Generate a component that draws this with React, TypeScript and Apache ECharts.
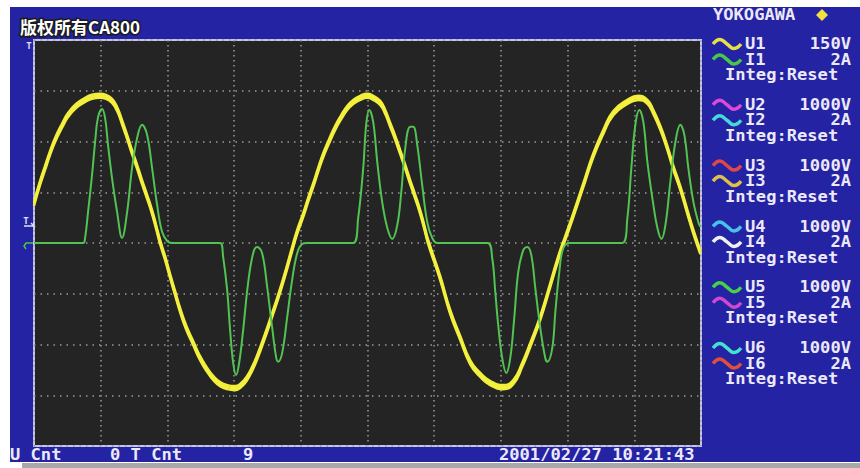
import React, { useEffect, useRef } from "react";
import * as echarts from "echarts";

// Time axis in ms (5 ms/div, 10 div), amplitude in divisions (8 div)
const voltageTime = [0, 0.45, 0.83, 1.2, 1.58, 2.1, 2.55, 3.15, 3.83, 4.35, 4.95, 5.4, 5.85, 6.23, 6.6, 6.98, 7.35, 7.73, 8.1, 8.48, 8.85, 9.15, 9.45, 9.83, 10.2, 10.58, 10.95, 11.4, 11.93, 12.45, 12.98, 13.43, 13.95, 14.48, 15.08, 15.53, 15.98, 16.35, 16.73, 17.1, 17.48, 17.85, 18.23, 18.6, 18.98, 19.35, 19.73, 20.18, 20.55, 20.93, 21.3, 21.68, 22.13, 22.58, 23.03, 23.48, 23.93, 24.45, 24.98, 25.43, 25.95, 26.33, 26.7, 27.08, 27.45, 27.83, 28.2, 28.58, 28.95, 29.25, 29.55, 30.45, 31.2, 31.95, 32.7, 33.45, 34.2, 35.18, 35.93, 36.6, 37.2, 37.95, 38.7, 39.3, 39.83, 40.43, 41.18, 41.93, 42.68, 43.43, 44.48, 45.3, 45.98, 46.43, 46.95, 47.48, 47.93, 48.45, 48.98, 49.43, 49.95];
const voltageDiv = [0.77, 1.18, 1.48, 1.77, 2.03, 2.31, 2.52, 2.7, 2.82, 2.88, 2.9, 2.88, 2.8, 2.64, 2.38, 2.09, 1.79, 1.5, 1.2, 0.91, 0.61, 0.32, 0.02, -0.3, -0.65, -0.99, -1.32, -1.66, -1.97, -2.27, -2.5, -2.66, -2.78, -2.84, -2.86, -2.8, -2.66, -2.48, -2.25, -1.99, -1.71, -1.42, -1.12, -0.81, -0.47, -0.12, 0.22, 0.55, 0.85, 1.14, 1.44, 1.73, 2.01, 2.27, 2.48, 2.66, 2.78, 2.86, 2.9, 2.86, 2.76, 2.58, 2.33, 2.07, 1.79, 1.5, 1.2, 0.91, 0.61, 0.32, 0.02, -0.69, -1.36, -1.87, -2.35, -2.6, -2.76, -2.84, -2.74, -2.4, -2.01, -1.48, -0.83, -0.3, 0.1, 0.55, 1.14, 1.73, 2.19, 2.56, 2.78, 2.86, 2.78, 2.58, 2.27, 1.87, 1.48, 1.08, 0.61, 0.22, -0.18];

const currentTime = [0, 3.68, 3.83, 4.05, 4.35, 4.58, 4.8, 5.1, 5.33, 5.55, 5.85, 6.23, 6.6, 6.98, 7.35, 7.73, 8.1, 8.48, 8.85, 9.23, 9.6, 9.98, 10.35, 13.95, 14.18, 14.48, 14.7, 14.93, 15.15, 15.38, 15.68, 16.05, 16.43, 16.73, 17.1, 17.48, 17.85, 18.15, 18.3, 18.6, 18.98, 19.35, 19.73, 20.1, 20.48, 23.93, 24.3, 24.68, 24.9, 25.13, 25.43, 25.73, 26.1, 26.48, 26.85, 27.23, 27.53, 27.83, 28.2, 28.43, 28.73, 29.1, 29.48, 29.85, 30.23, 33.98, 34.35, 34.58, 34.8, 35.1, 35.4, 35.7, 36.0, 36.3, 36.68, 36.98, 37.28, 37.58, 37.95, 38.33, 38.48, 38.85, 39.08, 39.38, 39.68, 40.2, 44.1, 44.48, 44.78, 45.08, 45.38, 45.68, 45.98, 46.43, 46.73, 47.03, 47.33, 47.7, 48.08, 48.45, 48.75, 49.05, 49.43, 49.8, 49.95];
const currentDiv = [0, 0, 0.1, 0.61, 1.34, 1.99, 2.48, 2.64, 2.46, 1.93, 1.28, 0.61, 0.1, 0.61, 1.48, 2.07, 2.33, 2.13, 1.48, 0.75, 0.22, 0.04, 0, 0, -0.28, -0.93, -1.71, -2.36, -2.6, -2.36, -1.71, -0.79, -0.2, -0.08, -0.2, -0.87, -1.66, -2.25, -2.34, -2.17, -1.46, -0.73, -0.2, -0.02, 0, 0, 0.49, 1.48, 2.33, 2.62, 2.38, 1.6, 0.81, 0.3, 0.08, 0.35, 1.0, 1.87, 2.29, 2.29, 1.93, 1.14, 0.41, 0.1, 0, 0, -0.3, -0.97, -1.62, -2.27, -2.56, -2.27, -1.48, -0.57, -0.14, -0.08, -0.24, -0.89, -1.67, -2.27, -2.34, -2.07, -1.36, -0.57, -0.1, 0, 0, 0.49, 1.48, 2.33, 2.62, 2.38, 1.6, 0.75, 0.3, 0.08, 0.35, 1.2, 1.99, 2.33, 2.13, 1.48, 0.81, 0.41, 0.32];

const channels = ["1", "2", "3", "4", "5", "6"];
const voltageRanges = ["150V", "1000V", "1000V", "1000V", "1000V", "1000V"];
const currentRanges = ["2A", "2A", "2A", "2A", "2A", "2A"];
const voltageColors = ["#e8e048", "#e048d8", "#e04848", "#48c0e8", "#48d048", "#48e0d0"];
const currentColors = ["#48c848", "#48d8d8", "#e0c048", "#f0f0f0", "#d048d0", "#e05038"];
const integLabel = "Integ:Reset";
const brand = "YOKOGAWA";
const title = "版权所有CA800";
const statusTexts = ["U Cnt", "0 T Cnt", "9"];
const dateText = "2001/02/27 10:21:43";

const TXT = "#ece8f8";
const MONO = 'bold 15px "DejaVu Sans Mono"';
const SX = 1.14;

function monoText(x: number, y: number, text: string, align: string, fill = TXT, font = MONO) {
  return {
    type: "text",
    x,
    y,
    scaleX: SX,
    z: 10,
    style: { text, fill, font, textAlign: align, align, textVerticalAlign: "middle", verticalAlign: "middle" },
  };
}

function waveIcon(x: number, y: number, color: string) {
  return {
    type: "polyline",
    z: 10,
    shape: {
      points: [[x, y], [x + 7, y - 4.5], [x + 14, y], [x + 21, y + 4.5], [x + 28, y]],
      smooth: 0.5,
    },
    style: { stroke: color, lineWidth: 3.5, fill: null },
  };
}

const hiddenAxis = (min: number, max: number) => ({
  type: "value", min, max, show: false,
  splitLine: { show: false }, axisLine: { show: false }, axisTick: { show: false }, axisLabel: { show: false },
});

export default function App() {
  const ref = useRef<HTMLDivElement>(null);
  useEffect(() => {
    document.body.style.margin = "0";
    const chart = echarts.init(ref.current!, undefined, { renderer: "svg" });
    const graphics: any[] = [
      { type: "rect", z: -10, shape: { x: 10, y: 7, width: 850, height: 455 }, style: { fill: "#2323a3" } },
      { type: "rect", z: -10, shape: { x: 22, y: 463, width: 838, height: 5 }, style: { fill: "#a8a8a8" } },
      {
        type: "text", x: 20, y: 26, z: 10,
        style: { text: title, fill: "#ffffff", stroke: "#1a1a1a", lineWidth: 3, font: 'bold 17px "Noto Sans CJK SC"', textVerticalAlign: "middle", verticalAlign: "middle" },
      },
      monoText(713, 15, brand, "left"),
      { type: "polygon", z: 10, shape: { points: [[822, 9], [828, 15], [822, 21], [816, 15]] }, style: { fill: "#f0e040" } },
      monoText(10, 455, statusTexts[0], "left"),
      monoText(110, 455, statusTexts[1], "left"),
      monoText(243, 455, statusTexts[2], "left"),
      monoText(499, 455, dateText, "left"),
      // left markers
      { type: "text", x: 29, y: 46, z: 10, style: { text: "T", fill: "#e0e0f0", font: 'bold 9px "DejaVu Sans Mono"', textAlign: "center", align: "center", textVerticalAlign: "middle", verticalAlign: "middle" } },
      { type: "text", x: 26, y: 221, z: 10, style: { text: "T", fill: "#e0e0f0", font: 'bold 9px "DejaVu Sans Mono"', textAlign: "center", align: "center", textVerticalAlign: "middle", verticalAlign: "middle" } },
      { type: "polyline", z: 10, shape: { points: [[31, 223], [34, 226], [24, 226]] }, style: { stroke: "#e0e0f0", lineWidth: 1.5, fill: null } },
      { type: "polyline", z: 10, shape: { points: [[33, 243], [26, 243], [24, 246], [26, 249]] }, style: { stroke: "#48c848", lineWidth: 1.5, fill: null } },
    ];
    channels.forEach((ch, i) => {
      const yU = 44 + i * 60.8;
      const yI = yU + 15.5;
      const yR = yU + 31;
      graphics.push(waveIcon(713, yU, voltageColors[i]));
      graphics.push(waveIcon(713, yI, currentColors[i]));
      graphics.push(monoText(745, yU, "U" + ch, "left"));
      graphics.push(monoText(745, yI, "I" + ch, "left"));
      graphics.push(monoText(851, yU, voltageRanges[i], "right"));
      graphics.push(monoText(851, yI, currentRanges[i], "right"));
      graphics.push(monoText(725, yR, integLabel, "left"));
    });

    const voltageData = voltageTime.map((t, i) => [t, voltageDiv[i]]);
    const yellowBand = (yAxisIndex: number) => ({
      type: "line", showSymbol: false, smooth: 0.5, yAxisIndex,
      data: voltageData, silent: true,
      lineStyle: { color: "#f2ee3a", width: 2.5 }, z: 2,
    });

    chart.setOption({
      animation: false,
      backgroundColor: "#ffffff",
      grid: {
        left: 34, top: 40, width: 667, height: 406,
        show: true, backgroundColor: "#242424", borderColor: "#c4c4ec", borderWidth: 2,
      },
      xAxis: {
        type: "value", min: 0, max: 50, interval: 5,
        axisLine: { show: false }, axisTick: { show: false }, axisLabel: { show: false },
        splitLine: { show: true, lineStyle: { color: "#9a9a9a", width: 1.5, type: [1.5, 3.5] } },
      },
      yAxis: [
        {
          type: "value", min: -4, max: 4, interval: 1,
          axisLine: { show: false }, axisTick: { show: false }, axisLabel: { show: false },
          splitLine: { show: true, lineStyle: { color: "#9a9a9a", width: 1.5, type: [1.5, 5] } },
        },
        // trace noise band: same data drawn with the screen's vertical noise (±0.04 div)
        hiddenAxis(-3.96, 4.04),
        hiddenAxis(-4.04, 3.96),
      ],
      series: [
        yellowBand(1),
        yellowBand(2),
        {
          name: "U1", type: "line", showSymbol: false, smooth: 0.5,
          data: voltageData,
          lineStyle: { color: "#f4f040", width: 2.5 },
          z: 2,
        },
        {
          name: "I1", type: "line", showSymbol: false, smooth: 0.4,
          data: currentTime.map((t, i) => [t, currentDiv[i]]),
          lineStyle: { color: "#52c252", width: 2 },
          z: 3,
        },
      ],
      graphic: graphics,
    });
    return () => chart.dispose();
  }, []);
  return <div ref={ref} style={{ width: 860, height: 468 }} />;
}
